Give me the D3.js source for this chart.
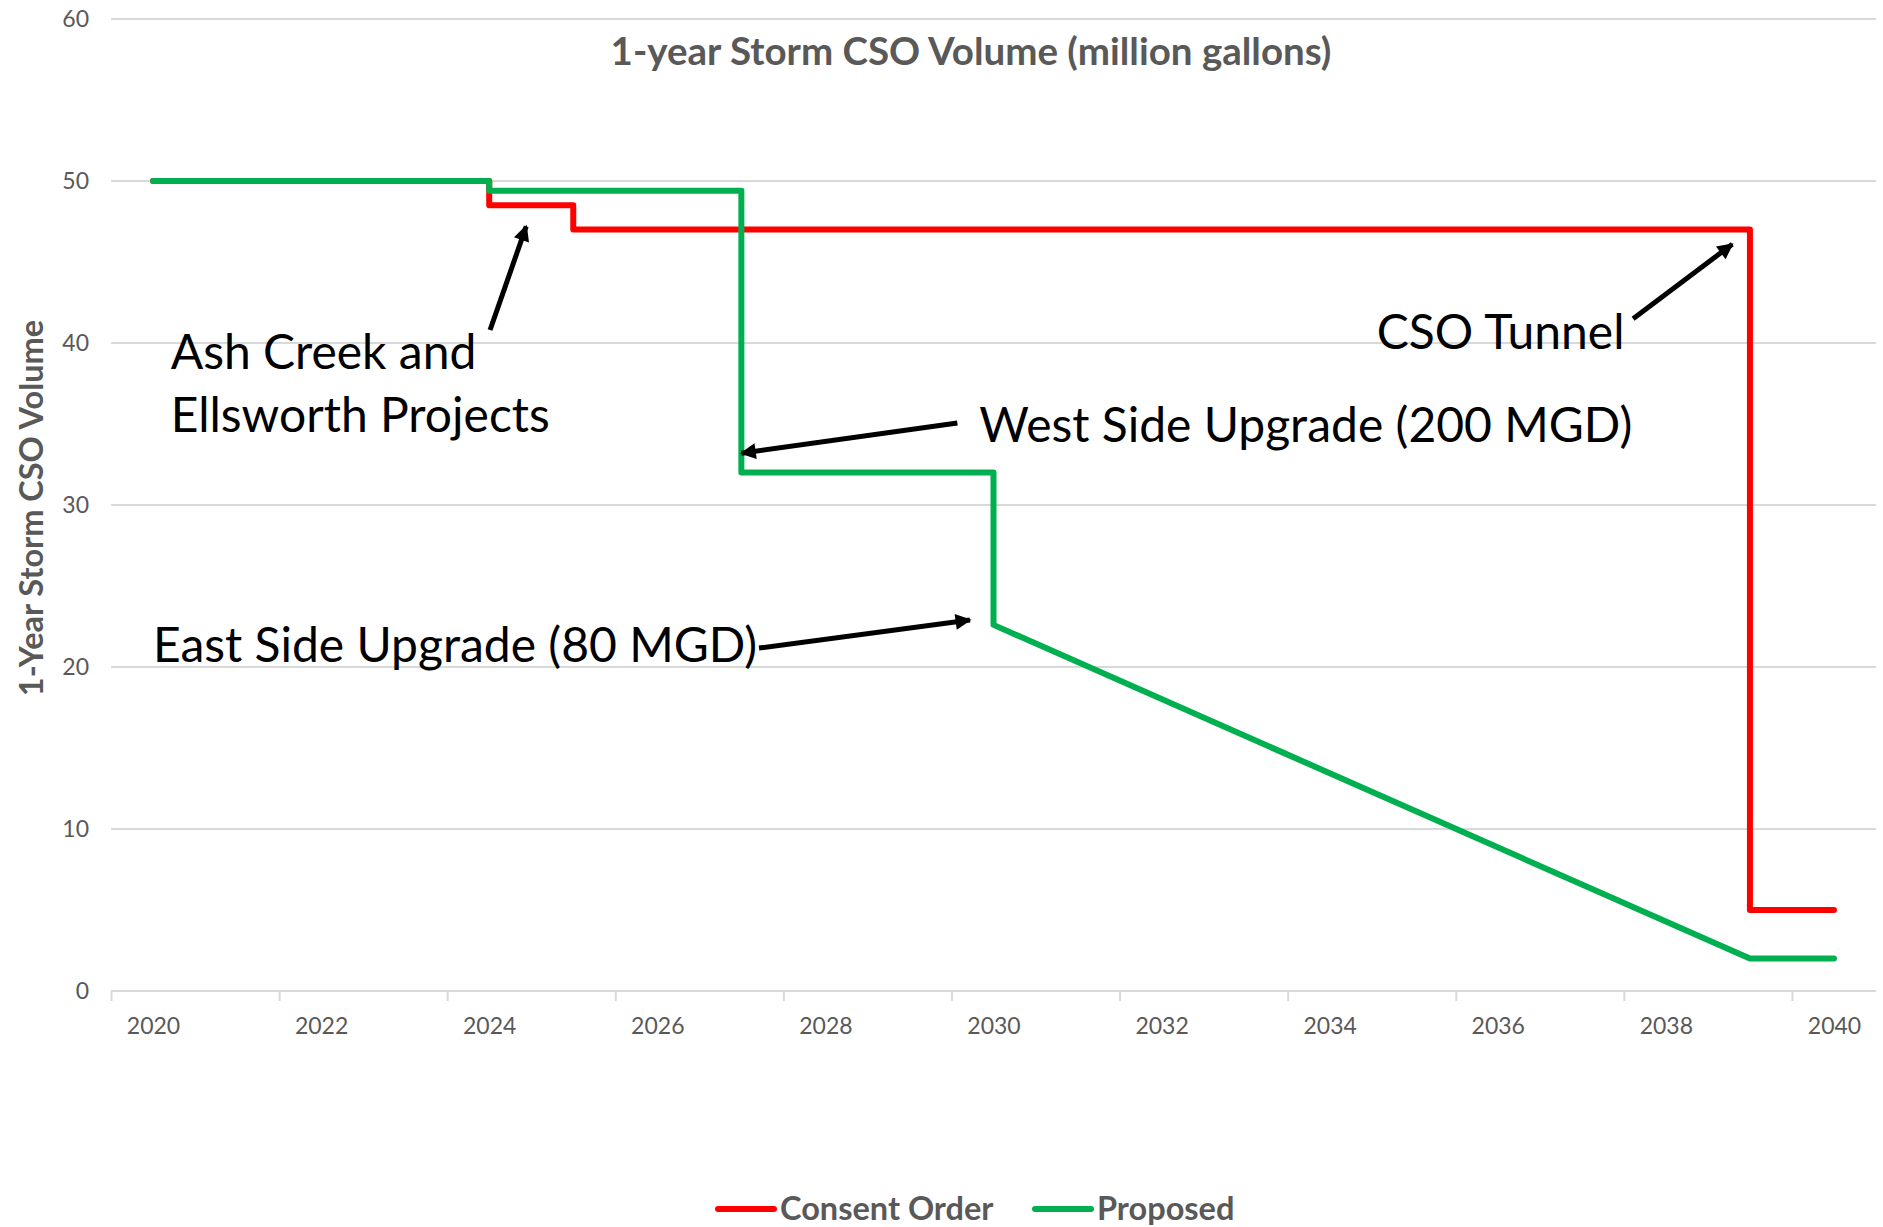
<!DOCTYPE html>
<html>
<head>
<meta charset="utf-8">
<script src="https://cdn.jsdelivr.net/npm/d3@7"></script>
<style>
  body { margin: 0; background: #fff; }
  text { font-family: Lato, "Open Sans", sans-serif; }
</style>
</head>
<body>
<div id="chart"></div>
<script>
// chart data
var yTicks = [0, 10, 20, 30, 40, 50, 60];
var xTickLabels = [2020, 2022, 2024, 2026, 2028, 2030, 2032, 2034, 2036, 2038, 2040];

var consentYears = [2020, 2024, 2024, 2025, 2025, 2039, 2039, 2040];
var consentValues = [50, 50, 48.5, 48.5, 47, 47, 5, 5];

var proposedYears = [2020, 2024, 2024, 2027, 2027, 2030, 2030, 2039, 2040];
var proposedValues = [50, 50, 49.4, 49.4, 32, 32, 22.6, 2, 2];

var seriesNames = ["Consent Order", "Proposed"];

// annotation labels (year, value of baseline) and arrows
var noteLines = ["Ash Creek and", "Ellsworth Projects", "West Side Upgrade (200 MGD)", "CSO Tunnel", "East Side Upgrade (80 MGD)"];
var noteYears = [2020.21, 2020.21, 2029.83, 2034.56, 2020.0];
var noteValues = [38.4, 34.5, 33.9, 39.6, 20.3];

var arrowFromYears = [2024.01, 2029.57, 2027.21, 2037.61];
var arrowFromValues = [40.8, 35.06, 21.17, 41.5];
var arrowToYears = [2024.44, 2027.0, 2029.72, 2038.79];
var arrowToValues = [47.2, 33.2, 22.9, 46.1];

var svgWidth = 1883;
var svgHeight = 1227;
var plotLeft = 111, plotRight = 1876, plotTop = 19, plotBottom = 991;
var grey = "#595959";

var svg = d3.select("#chart")
  .append("svg")
  .attr("width", svgWidth)
  .attr("height", svgHeight);

// category style axis: each year gets a band, ticks sit between bands
var xScale = d3.scaleLinear()
  .domain([2019.5, 2040.5])
  .range([plotLeft, plotRight]);

var yScale = d3.scaleLinear()
  .domain([0, 60])
  .range([plotBottom, plotTop]);

// gridlines
svg.append("g")
  .selectAll("line")
  .data(yTicks.slice(1))
  .enter()
  .append("line")
  .attr("x1", plotLeft)
  .attr("x2", plotRight)
  .attr("y1", d => yScale(d))
  .attr("y2", d => yScale(d))
  .attr("stroke", "#d9d9d9")
  .attr("stroke-width", 2);

// y labels
var leftAxis = d3.axisLeft(yScale).tickValues(yTicks).tickSize(0).tickPadding(22);
svg.append("g")
  .attr("class", "leftAxis")
  .attr("transform", "translate(" + plotLeft + ",0)")
  .call(leftAxis)
  .call(g => g.select(".domain").remove())
  .selectAll("text")
  .attr("font-size", 23)
  .attr("fill", grey);

// bottom axis line + ticks between the year bands
var tickYears = d3.range(2019.5, 2041, 2);
var bottomAxis = d3.axisBottom(xScale).tickValues(tickYears).tickSize(10).tickFormat("");
svg.append("g")
  .attr("class", "bottomAxis")
  .attr("transform", "translate(0," + plotBottom + ")")
  .call(bottomAxis)
  .call(g => g.select(".domain").attr("stroke", "#d9d9d9").attr("stroke-width", 2).attr("d", "M" + plotLeft + ",0H" + plotRight))
  .call(g => g.selectAll(".tick line").attr("stroke", "#d9d9d9").attr("stroke-width", 2));

var labelAxis = d3.axisBottom(xScale).tickValues(xTickLabels).tickSize(0).tickPadding(27).tickFormat(d3.format("d"));
svg.append("g")
  .attr("transform", "translate(0," + plotBottom + ")")
  .call(labelAxis)
  .call(g => g.select(".domain").remove())
  .selectAll("text")
  .attr("font-size", 23)
  .attr("fill", grey);

// title
svg.append("text")
  .attr("x", 971)
  .attr("y", 65)
  .attr("text-anchor", "middle")
  .attr("font-size", 38.5)
  .attr("font-weight", "bold")
  .attr("fill", grey)
  .text("1-year Storm CSO Volume (million gallons)");

svg.append("text")
  .attr("transform", "translate(43," + (yScale(30) + 3) + ")rotate(-90)")
  .attr("text-anchor", "middle")
  .attr("font-size", 32.5)
  .attr("font-weight", "bold")
  .attr("fill", grey)
  .text("1-Year Storm CSO Volume");

// lines
var line = d3.line()
  .x(d => xScale(d[0]))
  .y(d => yScale(d[1]));

var consent = d3.zip(consentYears, consentValues);
var proposed = d3.zip(proposedYears, proposedValues);

svg.append("path")
  .datum(consent)
  .attr("d", line)
  .attr("fill", "none")
  .attr("stroke", "#ff0000")
  .attr("stroke-width", 6)
  .attr("stroke-linejoin", "round")
  .attr("stroke-linecap", "round");

svg.append("path")
  .datum(proposed)
  .attr("d", line)
  .attr("fill", "none")
  .attr("stroke", "#00b050")
  .attr("stroke-width", 6)
  .attr("stroke-linejoin", "round")
  .attr("stroke-linecap", "round");

// arrows
svg.append("defs")
  .append("marker")
  .attr("id", "head")
  .attr("viewBox", "0 0 10 10")
  .attr("refX", 9)
  .attr("refY", 5)
  .attr("markerUnits", "userSpaceOnUse")
  .attr("markerWidth", 18)
  .attr("markerHeight", 16)
  .attr("orient", "auto")
  .append("path")
  .attr("d", "M0,0L10,5L0,10z")
  .attr("fill", "#000");

svg.append("g")
  .selectAll("line")
  .data(d3.range(arrowFromYears.length))
  .enter()
  .append("line")
  .attr("x1", i => xScale(arrowFromYears[i]))
  .attr("y1", i => yScale(arrowFromValues[i]))
  .attr("x2", i => xScale(arrowToYears[i]))
  .attr("y2", i => yScale(arrowToValues[i]))
  .attr("stroke", "#000")
  .attr("stroke-width", 5)
  .attr("marker-end", "url(#head)");

svg.append("g")
  .selectAll("text")
  .data(noteLines)
  .enter()
  .append("text")
  .attr("x", (d, i) => xScale(noteYears[i]))
  .attr("y", (d, i) => yScale(noteValues[i]))
  .attr("font-size", 48)
  .attr("fill", "#000")
  .text(d => d);

// legend
var legendColors = ["#ff0000", "#00b050"];
var legendX = [718, 1035];
var legend = svg.append("g");
seriesNames.forEach(function(name, i) {
  legend.append("line")
    .attr("x1", legendX[i])
    .attr("x2", legendX[i] + 56)
    .attr("y1", 1209)
    .attr("y2", 1209)
    .attr("stroke", legendColors[i])
    .attr("stroke-width", 6)
    .attr("stroke-linecap", "round");
  legend.append("text")
    .attr("x", legendX[i] + 62)
    .attr("y", 1220)
    .attr("font-size", 32.5)
    .attr("font-weight", "bold")
    .attr("fill", grey)
    .text(name);
});
</script>
</body>
</html>
